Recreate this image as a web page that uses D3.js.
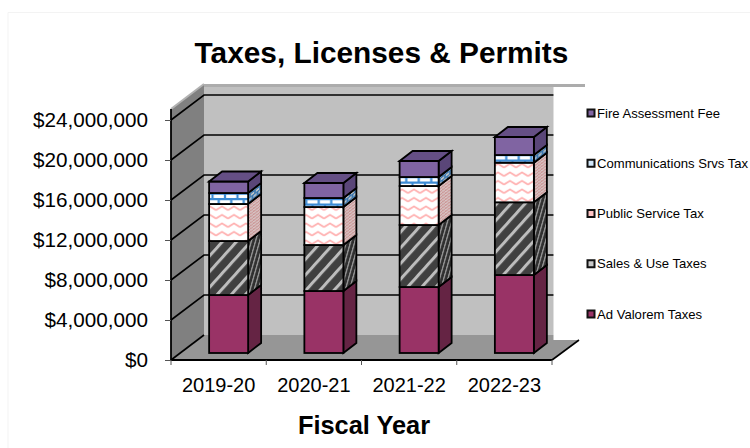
<!DOCTYPE html>
<html>
<head>
<meta charset="utf-8">
<script src="https://cdn.jsdelivr.net/npm/d3@7"></script>
<style>
html,body{margin:0;padding:0;background:#fff}
svg{display:block}
text{font-family:"Liberation Sans",Arial,sans-serif;fill:#000}
</style>
</head>
<body>
<svg id="chart" width="750" height="448"></svg>
<script>
// Fiscal years and revenue by source, in dollars
const years = ["2019-20","2020-21","2021-22","2022-23"];
const adValorem = [5800000,6200000,6600000,7800000];
const salesUse = [5400000,4600000,6200000,7270000];
const publicService = [3700000,3800000,3900000,3960000];
const communications = [1100000,900000,900000,770000];
const fireAssessment = [1150000,1500000,1600000,1800000];
const seriesNames = ["Ad Valorem Taxes","Sales & Use Taxes","Public Service Tax","Communications Srvs Tax","Fire Assessment Fee"];
const yTicks = [0,4000000,8000000,12000000,16000000,20000000,24000000];
const seriesValues = [adValorem,salesUse,publicService,communications,fireAssessment];

const W = 750, H = 448;
const svg = d3.select("#chart");

// Oblique projection of the chart box
const left = 171, right = 552, base = 360, axisTop = 109;
const depthX = 33, depthY = -25;
const x = d3.scaleBand().domain(years).range([left,right]);
const y = d3.scaleLinear().domain([0,24000000]).range([base,120]);
const barW = 39, barShiftX = 10, barLift = 7, barDepthX = 13, barDepthY = -10;

const defs = svg.append("defs");

function stripes(id, bg, fg, size, w, tf){
  const p = defs.append("pattern").attr("id",id).attr("patternUnits","userSpaceOnUse")
    .attr("width",size).attr("height",size).attr("patternTransform",tf);
  p.append("rect").attr("width",size).attr("height",size).attr("fill",bg);
  p.append("rect").attr("width",w).attr("height",size).attr("fill",fg);
}
stripes("salesFront","#404040","#bdbdbd",10.5,3,"rotate(42)");
stripes("salesSide","#303030","#8f8f8f",5,1.8,"skewY(-38) rotate(20)");

function waves(id, bg, fg, wid, hgt, sw, tf){
  const p = defs.append("pattern").attr("id",id).attr("patternUnits","userSpaceOnUse")
    .attr("width",wid).attr("height",hgt);
  if(tf) p.attr("patternTransform",tf);
  p.append("rect").attr("width",wid).attr("height",hgt).attr("fill",bg);
  p.append("path").attr("fill","none").attr("stroke",fg).attr("stroke-width",sw)
    .attr("d",`M0,${hgt*0.72}L${wid/2},${hgt*0.28}L${wid},${hgt*0.72}`);
}
waves("publicFront","#fff","#ffb0b0",12,8.5,1.8);
waves("publicSide","#d8c8c8","#c88a8a",3,3,1,"skewY(-38)");

function bricks(id, bg, fg, wid, hgt, sw, tf){
  const p = defs.append("pattern").attr("id",id).attr("patternUnits","userSpaceOnUse")
    .attr("width",wid).attr("height",hgt);
  if(tf) p.attr("patternTransform",tf);
  p.append("rect").attr("width",wid).attr("height",hgt).attr("fill",bg);
  p.append("path").attr("fill","none").attr("stroke",fg).attr("stroke-width",sw)
    .attr("d",`M0,${sw/2}H${wid}M0,${hgt/2+sw/2}H${wid}M${wid/2},0V${hgt/2}M0,${hgt/2}V${hgt}M${wid},${hgt/2}V${hgt}`);
}
bricks("commFront","#fff","#3d8bd4",12.5,11,2.2);
bricks("commSide","#c4c4c4","#3b78b0",5,7,1.6,"skewY(-38)");

const fills = [
  {front:"#993366",side:"#652444"},
  {front:"url(#salesFront)",side:"url(#salesSide)"},
  {front:"url(#publicFront)",side:"url(#publicSide)"},
  {front:"url(#commFront)",side:"url(#commSide)"},
  {front:"#8064a2",side:"#5a4678",top:"#654f85"}
];
const legendFill = ["#993366","#c8c8c8","#ffc4c4","#d2e8fb","#8064a2"];

const poly = pts => pts.map(p=>p.join(",")).join(" ");
const dark = "#000";

// Faint outer frame
svg.append("path").attr("d",`M8,${H}V12.5H${W}`).attr("fill","none").attr("stroke","#f3f3f3").attr("stroke-width",1);

// Walls and floor
const backTop = axisTop+depthY;
svg.append("polygon").attr("points",poly([[left,axisTop],[left+depthX,backTop],[left+depthX,base+depthY],[left,base]])).attr("fill","#808080");
svg.append("polyline").attr("points",poly([[left,axisTop],[left+depthX,backTop]])).attr("fill","none").attr("stroke","#b2b2b2").attr("stroke-width",2);
svg.append("rect").attr("x",left+depthX).attr("y",backTop).attr("width",right-left).attr("height",base-axisTop).attr("fill","#c0c0c0");
svg.append("rect").attr("x",left+depthX).attr("y",backTop).attr("width",right-left).attr("height",3).attr("fill","#acacac");
svg.append("polygon").attr("points",poly([[left,base],[left+depthX,base+depthY],[right+depthX,base+depthY],[right,base]])).attr("fill","#969696");

// Gridlines run up the side wall and across the back wall
const grid = svg.append("g").attr("fill","none").attr("stroke",dark).attr("stroke-width",1.6);
grid.selectAll("polyline").data(yTicks.filter(d=>d>0)).join("polyline")
  .attr("points",d=>poly([[left,y(d)],[left+depthX,y(d)+depthY],[right+depthX,y(d)+depthY]]));

// White panel behind the legend hides the far end of the box
svg.append("rect").attr("x",553.5).attr("y",backTop+3).attr("width",W-553.5).attr("height",340-backTop-3).attr("fill","#fff");

// Floor edges
svg.append("line").attr("x1",left).attr("y1",base).attr("x2",left+depthX).attr("y2",base+depthY).attr("stroke",dark).attr("stroke-width",1.6);
svg.append("line").attr("x1",right).attr("y1",base).attr("x2",right+27).attr("y2",base-20).attr("stroke",dark).attr("stroke-width",1.6);

// Stacked 3D bars
const stackData = years.map((yr,i)=>{
  let acc = 0;
  return seriesValues.map((vals,s)=>{
    const seg = {yr,s,y0:acc,y1:acc+vals[i]};
    acc = seg.y1;
    return seg;
  });
});
const barY = v => y(v)-barLift;
const barG = svg.append("g").attr("stroke",dark).attr("stroke-width",1.8).attr("stroke-linejoin","miter");
stackData.forEach(col=>{
  const g = barG.append("g");
  col.forEach(seg=>{
    const x0 = x(seg.yr)+x.bandwidth()/2-barW/2+barShiftX, x1 = x0+barW;
    const yb = barY(seg.y0), yt = barY(seg.y1);
    g.append("polygon").attr("fill",fills[seg.s].side)
      .attr("points",poly([[x1,yb],[x1+barDepthX,yb+barDepthY],[x1+barDepthX,yt+barDepthY],[x1,yt]]));
    g.append("rect").attr("x",x0).attr("y",yt).attr("width",barW).attr("height",yb-yt).attr("fill",fills[seg.s].front);
    if(fills[seg.s].top){
      g.append("polygon").attr("fill",fills[seg.s].top)
        .attr("points",poly([[x0,yt],[x0+barDepthX,yt+barDepthY],[x1+barDepthX,yt+barDepthY],[x1,yt]]));
    }
  });
});

// Axes
const fmt = d => d3.format("$,")(d);
const yAxis = d3.axisLeft(y).tickValues(yTicks).tickFormat(fmt).tickSize(6).tickPadding(17);
const yG = svg.append("g").attr("transform",`translate(${left},0)`).call(yAxis);
yG.select(".domain").attr("d",`M0,${axisTop}V${base}`).attr("stroke",dark).attr("stroke-width",1.8);
yG.selectAll(".tick line").attr("stroke","#555");
yG.selectAll("text").attr("font-size",20.7).style("font-family",'"Liberation Sans",Arial,sans-serif').attr("fill","#111");

const xAxis = d3.axisBottom(x).tickSize(0).tickPadding(16);
const xG = svg.append("g").attr("transform",`translate(0,${base})`).call(xAxis);
xG.select(".domain").attr("d",`M${left},0H${right}`).attr("stroke",dark).attr("stroke-width",2.2);
xG.selectAll("text").attr("font-size",20).attr("dy","0.78em").style("font-family",'"Liberation Sans",Arial,sans-serif').attr("fill","#111");
xG.selectAll(".edge").data(x.domain().map(d=>x(d)).concat(right)).join("line").attr("class","edge")
  .attr("x1",d=>d).attr("x2",d=>d).attr("y1",0).attr("y2",5).attr("stroke","#555");

// Titles
svg.append("text").attr("x",381.5).attr("y",63).attr("text-anchor","middle").attr("font-size",29.8).attr("font-weight","bold").text("Taxes, Licenses & Permits");
svg.append("text").attr("x",364).attr("y",434).attr("text-anchor","middle").attr("font-size",25.4).attr("font-weight","bold").text("Fiscal Year");

// Legend, listed from the top of the stack down
const legendRows = d3.range(seriesNames.length).reverse();
const legendY = d3.scalePoint().domain(legendRows).range([113,314]);
const lg = svg.append("g").selectAll("g").data(legendRows).join("g").attr("transform",d=>`translate(587,${legendY(d)})`);
lg.append("rect").attr("x",0.5).attr("y",-3.5).attr("width",7).attr("height",7).attr("fill",d=>legendFill[d]).attr("stroke","#111").attr("stroke-width",2);
lg.append("text").attr("x",10).attr("y",4.5).attr("font-size",13.1).attr("fill","#111").text(d=>seriesNames[d]);
</script>
</body>
</html>
